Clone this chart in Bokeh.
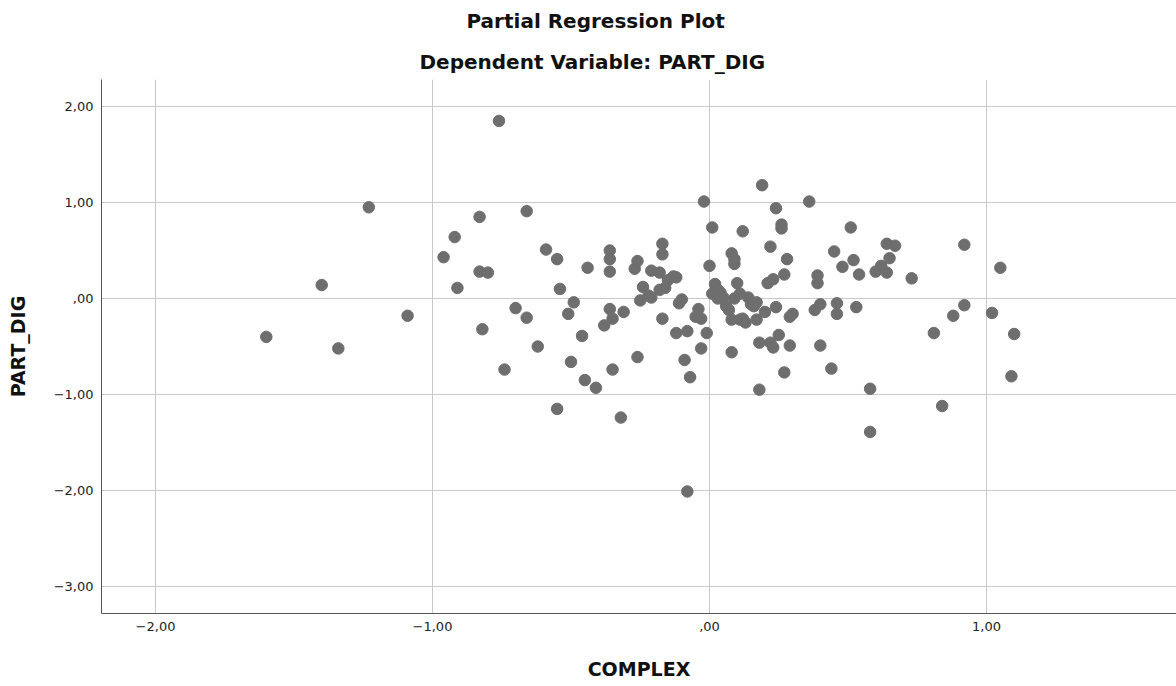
from bokeh.plotting import figure
from bokeh.models import ColumnDataSource, FixedTicker, CustomJSTickFormatter, Title, Range1d
from bokeh.embed import file_html
from bokeh.resources import INLINE

complex_vals = [
    -1.60, -1.40, -1.34, -1.23, -1.09, -0.96, -0.92, -0.91, -0.83, -0.83,
    -0.82, -0.80, -0.76, -0.74, -0.70, -0.66, -0.66, -0.62, -0.59, -0.55,
    -0.55, -0.54, -0.51, -0.50, -0.49, -0.46, -0.45, -0.44, -0.41, -0.38,
    -0.36, -0.36, -0.36, -0.36, -0.35, -0.35, -0.32, -0.31, -0.27, -0.26,
    -0.26, -0.25, -0.24, -0.22, -0.21, -0.21, -0.18, -0.18, -0.17, -0.17,
    -0.17, -0.16, -0.15, -0.13, -0.12, -0.12, -0.11, -0.10, -0.09, -0.08,
    -0.08, -0.07, -0.05, -0.04, -0.03, -0.03, -0.02, -0.01, 0.00, 0.01,
    0.01, 0.02, 0.03, 0.03, 0.04, 0.05, 0.06, 0.07, 0.08, 0.08,
    0.08, 0.09, 0.09, 0.09, 0.10, 0.11, 0.11, 0.12, 0.12, 0.13,
    0.14, 0.15, 0.16, 0.17, 0.17, 0.18, 0.18, 0.19, 0.20, 0.21,
    0.22, 0.22, 0.23, 0.23, 0.24, 0.24, 0.25, 0.26, 0.26, 0.27,
    0.27, 0.28, 0.29, 0.29, 0.30, 0.36, 0.38, 0.39, 0.39, 0.40,
    0.40, 0.44, 0.45, 0.46, 0.46, 0.48, 0.51, 0.52, 0.53, 0.54,
    0.58, 0.58, 0.60, 0.62, 0.64, 0.64, 0.65, 0.67, 0.73, 0.81,
    0.84, 0.88, 0.92, 0.92, 1.02, 1.05, 1.09, 1.10,
]
part_dig_vals = [
    -0.40, 0.14, -0.52, 0.95, -0.18, 0.43, 0.64, 0.11, 0.85, 0.28,
    -0.32, 0.27, 1.85, -0.74, -0.10, -0.20, 0.91, -0.50, 0.51, 0.41,
    -1.15, 0.10, -0.16, -0.66, -0.04, -0.39, -0.85, 0.32, -0.93, -0.28,
    0.50, 0.41, 0.28, -0.11, -0.21, -0.74, -1.24, -0.14, 0.31, -0.61,
    0.39, -0.02, 0.12, 0.03, 0.29, 0.01, 0.09, 0.27, -0.21, 0.46,
    0.57, 0.11, 0.19, 0.23, -0.36, 0.22, -0.05, -0.01, -0.64, -2.01,
    -0.34, -0.82, -0.19, -0.11, -0.21, -0.52, 1.01, -0.36, 0.34, 0.05,
    0.74, 0.15, 0.09, 0.00, 0.06, 0.01, -0.08, -0.12, -0.22, 0.47,
    -0.56, 0.41, 0.36, 0.00, 0.16, -0.22, 0.05, 0.70, -0.21, -0.25,
    0.01, -0.06, -0.08, -0.04, -0.22, -0.95, -0.46, 1.18, -0.14, 0.16,
    -0.46, 0.54, 0.20, -0.51, -0.09, 0.94, -0.38, 0.73, 0.77, 0.25,
    -0.77, 0.41, -0.49, -0.19, -0.16, 1.01, -0.12, 0.16, 0.24, -0.49,
    -0.06, -0.73, 0.49, -0.05, -0.16, 0.33, 0.74, 0.40, -0.09, 0.25,
    -1.39, -0.94, 0.28, 0.34, 0.27, 0.57, 0.42, 0.55, 0.21, -0.36,
    -1.12, -0.18, -0.07, 0.56, -0.15, 0.32, -0.81, -0.37,
]
x_ticks = [-2, -1, 0, 1]
y_ticks = [-3, -2, -1, 0, 1, 2]

FONT = "DejaVu Sans"

p = figure(width=1176, height=686, output_backend="svg", toolbar_location=None,
           x_range=Range1d(-2.195, 1.686), y_range=Range1d(-3.281, 2.281),
           min_border_left=101, min_border_right=0, min_border_top=79, min_border_bottom=73)
p.outline_line_color = None
p.background_fill_color = "white"
p.border_fill_color = "white"

src = ColumnDataSource(dict(x=complex_vals, y=part_dig_vals))
p.scatter("x", "y", source=src, size=11.5, marker="circle",
          fill_color="#6e6e6e", line_color="#6e6e6e")

fmt = CustomJSTickFormatter(code="""
let s = Math.abs(tick).toFixed(2).replace('.', ',');
if (s.startsWith('0')) { s = s.slice(1); }
return (tick < 0 ? '\u2212' : '') + s;
""")

for ax, ticks in ((p.xaxis[0], x_ticks), (p.yaxis[0], y_ticks)):
    ax.ticker = FixedTicker(ticks=ticks)
    ax.formatter = fmt
    ax.major_tick_in = 0
    ax.major_tick_out = 0
    ax.minor_tick_line_color = None
    ax.axis_line_color = "#555555"
    ax.axis_line_width = 1
    ax.major_label_text_font = FONT
    ax.major_label_text_font_size = "13px"
    ax.major_label_text_color = "#222222"
    ax.axis_label_text_font = FONT
    ax.axis_label_text_font_size = "19px"
    ax.axis_label_text_font_style = "bold"
    ax.axis_label_text_color = "#111111"
    ax.major_label_standoff = 8

p.xaxis[0].axis_label = "COMPLEX"
p.yaxis[0].axis_label = "PART_DIG"
p.xaxis[0].axis_label_standoff = 24
p.yaxis[0].axis_label_standoff = 22

p.xgrid.ticker = FixedTicker(ticks=x_ticks)
p.ygrid.ticker = FixedTicker(ticks=y_ticks)
p.grid.grid_line_color = "#c8c8c8"
p.grid.grid_line_width = 1

p.add_layout(Title(text="Dependent Variable: PART_DIG", align="left", offset=318,
                   text_font=FONT, text_font_size="20px", text_font_style="bold",
                   text_color="#111111", standoff=11), "above")
p.add_layout(Title(text="Partial Regression Plot", align="left", offset=365,
                   vertical_align="top",
                   text_font=FONT, text_font_size="20px", text_font_style="bold",
                   text_color="#111111", standoff=15), "above")

open("out.html", "w").write(file_html(p, INLINE))
